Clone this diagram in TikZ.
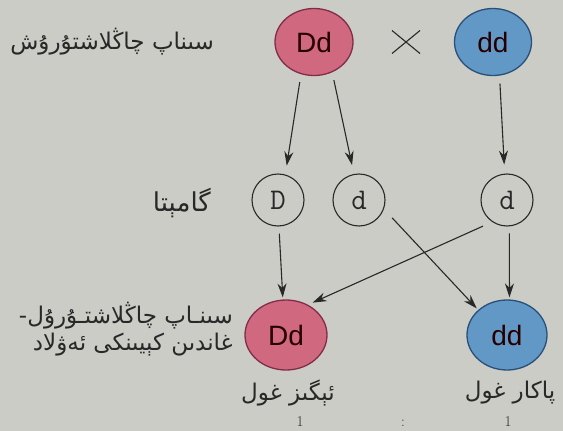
\documentclass[tikz,border=0pt]{standalone}
\usepackage{fontspec}
\usetikzlibrary{shapes.geometric,arrows.meta}
\TeXXeTstate=1
\newfontfamily\arabicfont[Script=Arabic]{DejaVu Sans}
\newfontfamily\latinsans{Liberation Sans}
\definecolor{paper}{RGB}{204,204,198}
\definecolor{ink}{RGB}{40,40,40}
\definecolor{tallpink}{RGB}{208,104,128}
\definecolor{tallrim}{RGB}{130,45,72}
\definecolor{shortblue}{RGB}{98,152,198}
\definecolor{shortrim}{RGB}{40,80,120}

\tikzset{
    plant/.style={ellipse, line width=1.3pt, inner sep=0pt, text=black!85!red,
        font=\latinsans\fontsize{28}{30}\selectfont},
    tall/.style={plant, fill=tallpink, draw=tallrim},
    short/.style={plant, fill=shortblue, draw=shortrim},
    gamete/.style={circle, draw=ink, line width=1.1pt, minimum size=52pt, inner sep=0pt,
        text=ink, font=\ttfamily\fontsize{30}{32}\selectfont},
    uytext/.style={text=ink, inner sep=0pt, font=\arabicfont\fontsize{23}{26}\selectfont},
    ratio/.style={text=ink, inner sep=0pt, anchor=base, font=\fontsize{15}{17}\selectfont},
    arr/.style={draw=ink, line width=1.1pt, -{Stealth[length=14pt,width=9pt]}}
}

\begin{document}
\begin{tikzpicture}[x=1pt, y=-1pt]
    \clip (0, 0) rectangle (563, 431);
    \fill[paper] (0, 0) rectangle (563, 431);

    \node[tall, minimum width=78pt, minimum height=67pt] (pDd) at (314, 42) {Dd};
    \node[short, minimum width=77pt, minimum height=67pt] (pdd) at (493, 42) {dd};
    \coordinate (cross) at (406, 42);
    \draw[ink, line width=1.1pt] ([shift={(-14, -11.5)}]cross) -- ([shift={(14, 11.5)}]cross);
    \draw[ink, line width=1.1pt] ([shift={(-14, 11.5)}]cross) -- ([shift={(14, -11.5)}]cross);

    \node[gamete] (gD) at (278, 200) {D};
    \node[gamete] (gd) at (359, 200) {d};
    \node[gamete] (gdd) at (507, 200) {d};

    \node[tall, minimum width=82pt, minimum height=70pt] (oDd) at (286, 335) {Dd};
    \node[short, minimum width=80pt, minimum height=70pt] (odd) at (507, 335) {dd};

    \node[uytext, anchor=east] (crossname) at (214, 42) {\beginR سىناپ چاڭلاشتۇرۇش\endR};
    \node[uytext, anchor=east, font=\arabicfont\fontsize{26}{28}\selectfont] (gametename) at (211, 203) {\beginR گامېتا\endR};
    \node[uytext, anchor=east] (offname1) at (233, 316) {\beginR سىنـاپ چاڭلاشتـۇرۇل-\endR};
    \node[uytext, anchor=east] (offname2) at (233, 345) {\beginR غاندىن كېيىنكى ئەۋلاد\endR};
    \node[uytext] (tallname) at (288, 393) {\beginR ئېگىز غول\endR};
    \node[uytext] (shortname) at (510, 393) {\beginR پاكار غول\endR};

    \node[ratio] (r1) at (300, 426) {1};
    \node[ratio] (rc) at (403, 426) {:};
    \node[ratio] (r2) at (508, 426) {1};

    \draw[arr, shorten <=8pt, shorten >=9pt] (pDd.248) -- (gD.74);
    \draw[arr, shorten <=8pt, shorten >=9pt] (pDd.301) -- (gd.101);
    \draw[arr, shorten <=8pt, shorten >=9pt] (pdd.281) -- (gdd.95);

    \draw[arr, shorten <=7pt, shorten >=2pt] (gD.272) -- (oDd.95);
    \draw[arr, shorten <=10pt, shorten >=5pt] (gdd.236) -- (oDd.54);
    \draw[arr, shorten <=12pt, shorten >=2pt] (gd.340) -- (odd.139);
    \draw[arr, shorten <=7pt, shorten >=2pt] (gdd.275) -- (odd.86);
\end{tikzpicture}
\end{document}
